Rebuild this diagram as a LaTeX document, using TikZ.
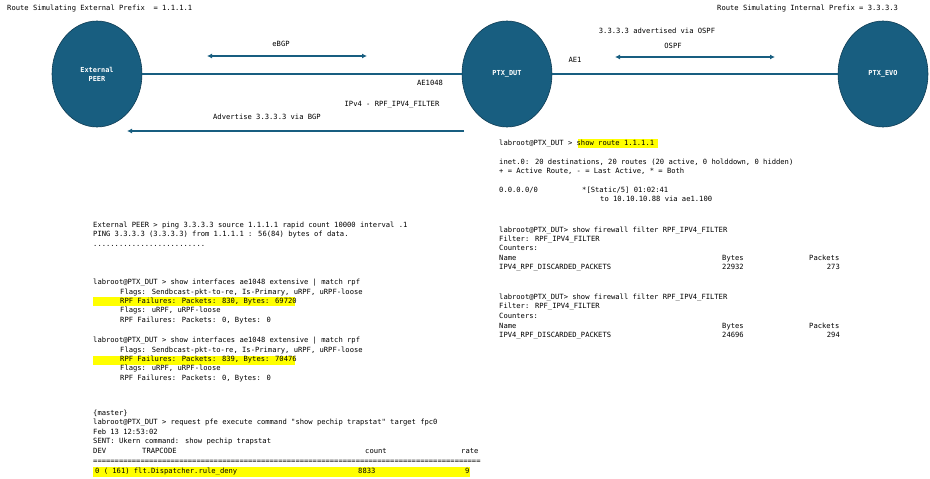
\documentclass[tikz,border=0pt]{standalone}
\usepackage{fontspec}
\newfontfamily\monof{DejaVu Sans Mono}
\usetikzlibrary{arrows.meta,shapes.geometric}
\definecolor{rtteal}{HTML}{185E80}
\definecolor{tealdark}{HTML}{0E3C54}
\definecolor{hl}{HTML}{FFFF00}
\begin{document}
\begin{tikzpicture}[x=1pt,y=-1pt,
  router/.style={ellipse,draw=tealdark,line width=0.6pt,fill=rtteal,minimum width=90pt,minimum height=106pt,inner sep=0pt,
    text=white,font=\monof\bfseries\fontsize{6.9}{9}\selectfont,align=center},
  link/.style={draw=rtteal,line width=1.8pt},
  dbl/.style={draw=rtteal,line width=1.6pt,{Latex[length=5pt,width=5pt]}-{Latex[length=5pt,width=5pt]}},
  sgl/.style={draw=rtteal,line width=1.6pt,-{Latex[length=5pt,width=5pt]}},
  mono/.style={font=\monof\fontsize{7.15}{9}\selectfont,anchor=base west,inner sep=0pt},
  monoc/.style={font=\monof\fontsize{7.15}{9}\selectfont,anchor=base,inner sep=0pt},
  monor/.style={font=\monof\fontsize{7.15}{9}\selectfont,anchor=base east,inner sep=0pt}]
\useasboundingbox (0,0) rectangle (930,479);

% highlights
\fill[hl] (578,138.5) rectangle (658,147.5);
\fill[hl] (93,297) rectangle (295,306);
\fill[hl] (93,356) rectangle (295,364.5);
\fill[hl] (93,466.5) rectangle (470,476.5);

% routers
\node[router] (peer) at (97,74) {External\\PEER};
\node[router] (dut) at (507,74) {PTX\_DUT};
\node[router] (evo) at (883,74) {PTX\_EVO};

\draw[link] (peer.east) -- (dut.west);
\draw[link] (dut.east) -- (evo.west);

\coordinate (bgpL) at (207,56);
\coordinate (bgpR) at (367,56);
\draw[dbl] (bgpL) -- (bgpR);
\coordinate (ospfL) at (615,57);
\coordinate (ospfR) at (775,57);
\draw[dbl] (ospfL) -- (ospfR);
\coordinate (advS) at (464,131);
\coordinate (advE) at (127,131);
\draw[sgl] (advS) -- (advE);

% diagram labels
\node[mono] (tl) at (7,10.5) {Route Simulating External Prefix \ = 1.1.1.1};
\node[mono] (tr) at (717,10.5) {Route Simulating Internal Prefix = 3.3.3.3};
\node[monoc] (lbgp) at (281,46.5) {eBGP};
\node[monoc] (lospfadv) at (657,33.5) {3.3.3.3 advertised via OSPF};
\node[monoc] (lospf) at (673,48.5) {OSPF};
\node[monoc] (lae1) at (575,62.5) {AE1};
\node[monoc] (lae1048) at (430,85.5) {AE1048};
\node[monoc] (lfilt) at (392,106.5) {IPv4 - RPF\_IPV4\_FILTER};
\node[monoc] (ladv) at (267,119.5) {Advertise 3.3.3.3 via BGP};

% route block
\node[mono] (r1) at (499,145.5) {labroot@PTX\_DUT > show route 1.1.1.1};
\node[mono] (r2) at (499,164.5) {inet.0: 20 destinations, 20 routes (20 active, 0 holddown, 0 hidden)};
\node[mono] (r3) at (499,173.8) {+ = Active Route, - = Last Active, * = Both};
\node[mono] (r4) at (499,192.5) {0.0.0.0/0};
\node[mono] (r4b) at (582,192.5) {*[Static/5] 01:02:41};
\node[mono] (r5) at (600,201.8) {to 10.10.10.88 via ae1.100};

% ping block
\node[mono] (p1) at (93,227.5) {External PEER > ping 3.3.3.3 source 1.1.1.1 rapid count 10000 interval .1};
\node[mono] (p2) at (93,236.8) {PING 3.3.3.3 (3.3.3.3) from 1.1.1.1 : 56(84) bytes of data.};
\node[mono] (p3) at (93,246) {..........................};

% interfaces block 1
\node[mono] (a1) at (93,284.5) {labroot@PTX\_DUT > show interfaces ae1048 extensive | match rpf};
\node[mono] (a2) at (120,294) {Flags: Sendbcast-pkt-to-re, Is-Primary, uRPF, uRPF-loose};
\node[mono] (a3) at (120,303.4) {RPF Failures: Packets: 830, Bytes: 69720};
\node[mono] (a4) at (120,312.8) {Flags: uRPF, uRPF-loose};
\node[mono] (a5) at (120,322.2) {RPF Failures: Packets: 0, Bytes: 0};

% interfaces block 2
\node[mono] (b1) at (93,342.5) {labroot@PTX\_DUT > show interfaces ae1048 extensive | match rpf};
\node[mono] (b2) at (120,352) {Flags: Sendbcast-pkt-to-re, Is-Primary, uRPF, uRPF-loose};
\node[mono] (b3) at (120,361.4) {RPF Failures: Packets: 839, Bytes: 70476};
\node[mono] (b4) at (120,370.8) {Flags: uRPF, uRPF-loose};
\node[mono] (b5) at (120,380.2) {RPF Failures: Packets: 0, Bytes: 0};

% trapstat block
\node[mono] (t1) at (93,415.5) {\{master\}};
\node[mono] (t2) at (93,424.8) {labroot@PTX\_DUT > request pfe execute command "show pechip trapstat" target fpc0};
\node[mono] (t3) at (93,434.5) {Feb 13 12:53:02};
\node[mono] (t4) at (93,443.8) {SENT: Ukern command: show pechip trapstat};
\node[mono] (t5a) at (93,453.5) {DEV};
\node[mono] (t5b) at (142,453.5) {TRAPCODE};
\node[mono] (t5c) at (365,453.5) {count};
\node[mono] (t5d) at (461,453.5) {rate};
\node[mono] (t6) at (93,463.5) {==========================================================================================};
\node[mono] (t7a) at (95,473.5) {0 ( 161) flt.Dispatcher.rule\_deny};
\node[mono] (t7b) at (358,473.5) {8833};
\node[mono] (t7c) at (465,473.5) {9};

% firewall block 1
\node[mono] (f1) at (499,232.7) {labroot@PTX\_DUT> show firewall filter RPF\_IPV4\_FILTER};
\node[mono] (f2) at (499,241.7) {Filter: RPF\_IPV4\_FILTER};
\node[mono] (f3) at (499,250.7) {Counters:};
\node[mono] (f4a) at (499,260.7) {Name};
\node[mono] (f4b) at (722,260.7) {Bytes};
\node[mono] (f4c) at (809,260.7) {Packets};
\node[mono] (f5a) at (499,269.7) {IPV4\_RPF\_DISCARDED\_PACKETS};
\node[mono] (f5b) at (722,269.7) {22932};
\node[monor] (f5c) at (840,269.7) {273};

% firewall block 2
\node[mono] (g1) at (499,299.7) {labroot@PTX\_DUT> show firewall filter RPF\_IPV4\_FILTER};
\node[mono] (g2) at (499,308.7) {Filter: RPF\_IPV4\_FILTER};
\node[mono] (g3) at (499,318.2) {Counters:};
\node[mono] (g4a) at (499,328.2) {Name};
\node[mono] (g4b) at (722,328.2) {Bytes};
\node[mono] (g4c) at (809,328.2) {Packets};
\node[mono] (g5a) at (499,337.7) {IPV4\_RPF\_DISCARDED\_PACKETS};
\node[mono] (g5b) at (722,337.7) {24696};
\node[monor] (g5c) at (840,337.7) {294};
\end{tikzpicture}
\end{document}
